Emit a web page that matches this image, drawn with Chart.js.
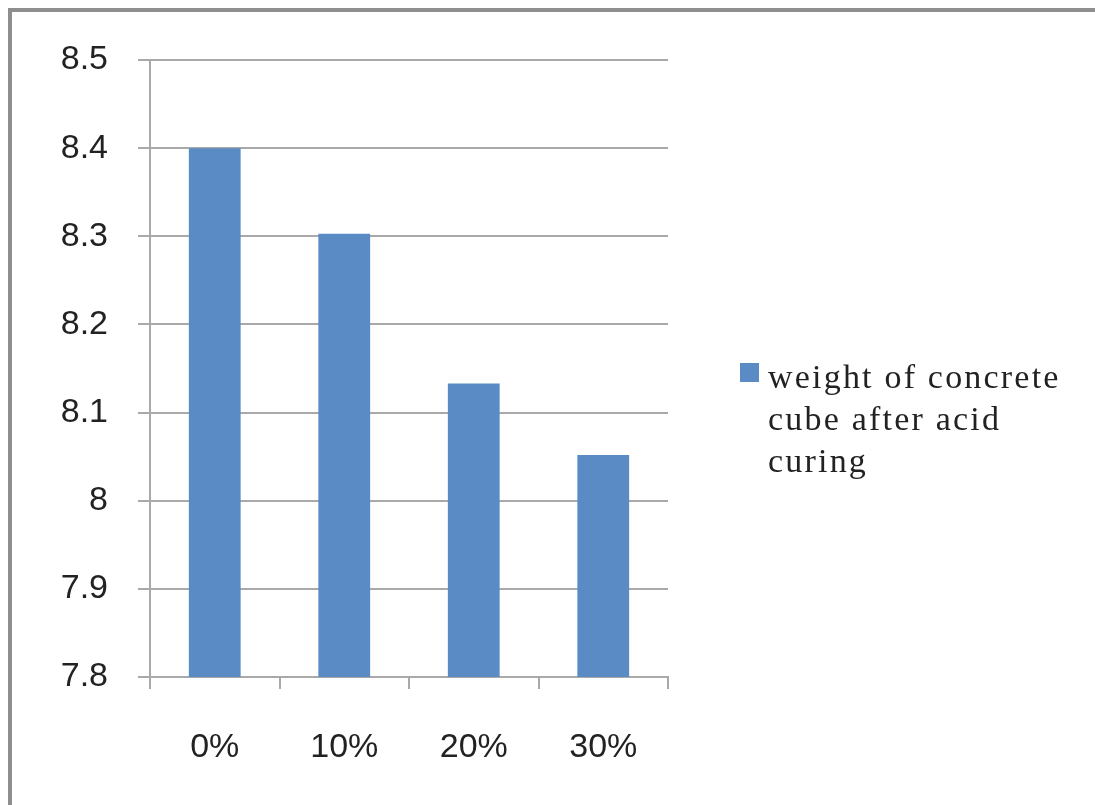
<!DOCTYPE html>
<html>
<head>
<meta charset="utf-8">
<script src="https://cdn.jsdelivr.net/npm/chart.js"></script>
<style>
    body { margin: 0; background: #ffffff; overflow: hidden; }
    #wrap { position: relative; width: 1095px; height: 805px; }
    #frame {
        position: absolute; left: 8px; top: 8px; width: 1200px; height: 900px;
        border-left: 4px solid #8e8e8e; border-top: 4px solid #8e8e8e;
    }
    #legend {
        position: absolute; left: 740px; top: 356px; width: 340px;
        font-family: "Liberation Serif", "Times New Roman", serif;
        font-size: 34px; line-height: 42px; letter-spacing: 2.2px; color: #222;
    }
    #legend .box {
        position: absolute; left: 0; top: 7px; width: 19px; height: 19px;
    }
    #legend .txt { margin-left: 28px; }
</style>
</head>
<body>
<div id="wrap">
    <div id="frame"></div>
    <canvas id="chart" width="1095" height="805"></canvas>
    <div id="legend"></div>
</div>
<script>
// Chart data
var categories = ['0%', '10%', '20%', '30%'];
var weights = [8.40, 8.303, 8.133, 8.052];
var seriesName = 'weight of concrete cube after acid curing';
var yTickLabels = ['7.8', '7.9', '8', '8.1', '8.2', '8.3', '8.4', '8.5'];

var barColor = '#5b8bc5';
var gridColor = '#a9a9a9';

var ctx = document.getElementById('chart').getContext('2d');
var chart = new Chart(ctx, {
    type: 'bar',
    data: {
        labels: categories,
        datasets: [{
            label: seriesName,
            data: weights,
            backgroundColor: barColor,
            barPercentage: 0.4,
            categoryPercentage: 1.0
        }]
    },
    options: {
        responsive: false,
        animation: false,
        layout: { padding: { left: 0, top: 60, right: 427, bottom: 0 } },
        plugins: {
            legend: { display: false },
            tooltip: { enabled: false }
        },
        scales: {
            x: {
                grid: {
                    display: true,
                    drawOnChartArea: false,
                    drawTicks: true,
                    tickLength: 12,
                    color: gridColor,
                    lineWidth: 2
                },
                border: { color: gridColor, width: 2 },
                ticks: {
                    color: '#222',
                    padding: 38,
                    font: { family: '"Liberation Sans", Arial, sans-serif', size: 34 }
                },
                afterFit: function (scale) { scale.height = 128; }
            },
            y: {
                min: 7.8,
                max: 8.5,
                grid: {
                    color: gridColor,
                    lineWidth: 2,
                    tickLength: 12
                },
                border: { color: gridColor, width: 2 },
                ticks: {
                    stepSize: 0.1,
                    color: '#222',
                    padding: 30,
                    font: { family: '"Liberation Sans", Arial, sans-serif', size: 34 },
                    callback: function (value, index) { return yTickLabels[index]; }
                },
                afterFit: function (scale) { scale.width = 150; }
            }
        }
    }
});

// HTML legend with wrapped text, like the original
var legend = document.getElementById('legend');
legend.innerHTML = '<div class="box" style="background:' + barColor + '"></div>' +
    '<div class="txt">' + seriesName + '</div>';
</script>
</body>
</html>
